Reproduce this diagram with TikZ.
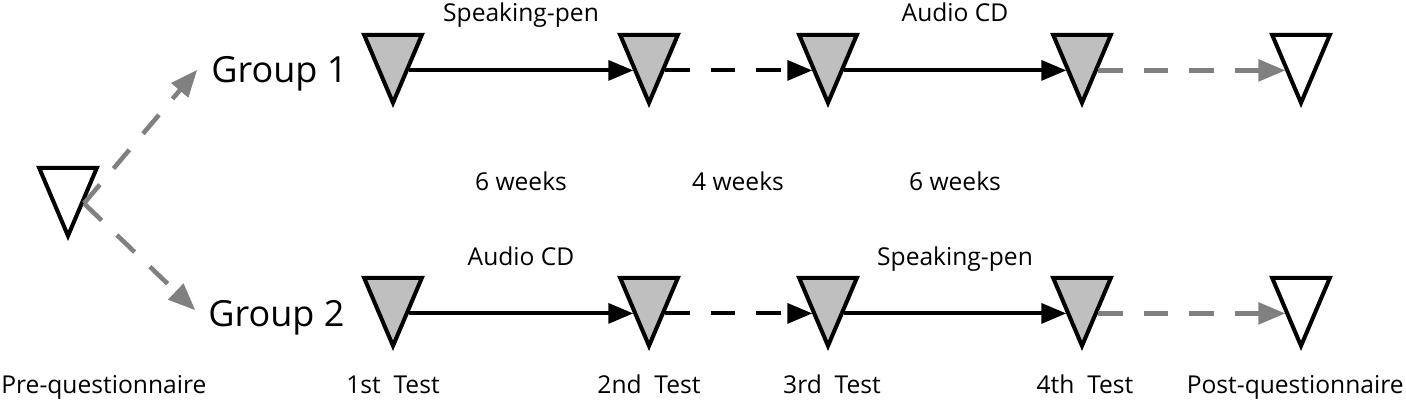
\documentclass[tikz,border=0pt]{standalone}
\usepackage{fontspec}
\setmainfont{Open Sans}
\usepackage{tikz}
\usetikzlibrary{shapes,arrows,calc}

\begin{document}
\begin{tikzpicture}[x=0.02cm,y=-0.02cm,
    test/.style={draw=black, line width=2.3pt, fill=gray!50, isosceles triangle, isosceles triangle apex angle=46, shape border rotate=-90, inner sep=0pt, minimum height=1.36cm, anchor=apex},
    quest/.style={test, fill=white},
    grp/.style={font=\fontsize{20.5}{22}\selectfont, anchor=base west, inner sep=0pt},
    lbl/.style={font=\fontsize{14}{16}\selectfont, anchor=base, inner sep=0pt},
    run/.style={-triangle 45, line width=2.3pt},
    pause/.style={run, dash pattern=on 14pt off 12pt},
    link/.style={-triangle 45, line width=2.6pt, gray, dash pattern=on 14pt off 12pt}]
\useasboundingbox (0,0) rectangle (1406,402);
\pgfmathsetmacro{\ya}{108}% group 1, apex
\pgfmathsetmacro{\yb}{351}% group 2, apex
\pgfmathsetmacro{\xa}{393}%
\pgfmathsetmacro{\xb}{649}%
\pgfmathsetmacro{\xc}{828}%
\pgfmathsetmacro{\xd}{1082}%
\pgfmathsetmacro{\xe}{1301}%

    %questionnaire
    \node[quest] (pre) at (68,241) {};
    \coordinate (up) at (197,70);
    \coordinate (down) at (195,310);

    %group 1
    \node[test] (a1) at (\xa,\ya) {};
    \node[test] (a2) at (\xb,\ya) {};
    \node[test] (a3) at (\xc,\ya) {};
    \node[test] (a4) at (\xd,\ya) {};
    \node[quest] (a5) at (\xe,\ya) {};

    %group 2
    \node[test] (b1) at (\xa,\yb) {};
    \node[test] (b2) at (\xb,\yb) {};
    \node[test] (b3) at (\xc,\yb) {};
    \node[test] (b4) at (\xd,\yb) {};
    \node[quest] (b5) at (\xe,\yb) {};

    \draw[link] (pre.left side) -- (up);
    \draw[link] (pre.left side) -- (down);

    \draw[run] (a1.left side) -- (a2.right side);
    \draw[pause] (a2.left side) -- (a3.right side);
    \draw[run] (a3.left side) -- (a4.right side);
    \draw[link] (a4.left side) -- (a5.right side);

    \draw[run] (b1.left side) -- (b2.right side);
    \draw[pause] (b2.left side) -- (b3.right side);
    \draw[run] (b3.left side) -- (b4.right side);
    \draw[link] (b4.left side) -- (b5.right side);

    %labels
    \node[grp] (g1) at (211,83) {Group 1};
    \node[grp] (g2) at (208,326) {Group 2};
    \node[lbl] (pen1) at (521,22) {Speaking-pen};
    \node[lbl] (cd1) at (955,22) {Audio CD};
    \node[lbl] (w1) at (521,190) {6 weeks};
    \node[lbl] (w2) at (738,190) {4 weeks};
    \node[lbl] (w3) at (955,190) {6 weeks};
    \node[lbl] (cd2) at (521,265) {Audio CD};
    \node[lbl] (pen2) at (955,265) {Speaking-pen};

    \node[lbl, anchor=base west] (l0) at (1,393) {Pre-questionnaire};
    \node[lbl] (l1) at (\xa,393) {1st~~Test};
    \node[lbl] (l2) at (\xb,393) {2nd~~Test};
    \node[lbl] (l3) at (\xc+4,393) {3rd~~Test};
    \node[lbl] (l4) at (\xd+3,393) {4th~~Test};
    \node[lbl, anchor=base east] (l5) at (1404,393) {Post-questionnaire};
\end{tikzpicture}
\end{document}
